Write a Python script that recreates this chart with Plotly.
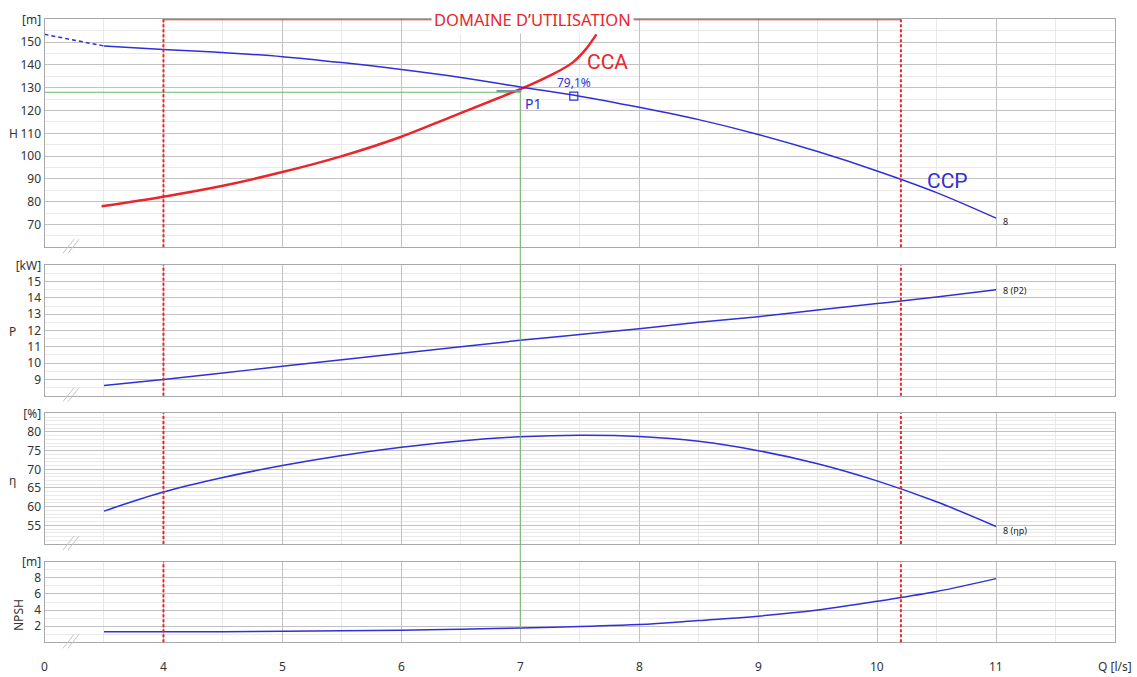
import plotly.graph_objects as go

FIG_W, FIG_H = 1137, 677

# ---------------- data ----------------
# pump curves (flow in l/s)
q = [3.5, 4, 4.5, 5, 5.5, 6, 6.5, 7, 7.5, 8, 8.5, 9, 9.5, 10, 10.5, 11]
head = [148.3, 146.8, 145.4, 143.6, 141.0, 138.0, 134.5, 130.3, 126.3, 121.4, 116.0, 109.5, 102.0, 93.5, 84.0, 72.8]
power = [8.63, 9.0, 9.4, 9.8, 10.2, 10.6, 11.0, 11.4, 11.75, 12.1, 12.5, 12.85, 13.25, 13.65, 14.05, 14.5]
eff = [58.8, 63.9, 67.8, 71.0, 73.7, 75.9, 77.6, 78.7, 79.1, 78.8, 77.5, 75.0, 71.5, 66.9, 61.3, 54.7]
npsh = [1.3, 1.3, 1.32, 1.36, 1.42, 1.5, 1.62, 1.78, 1.97, 2.2, 2.7, 3.24, 4.0, 5.1, 6.3, 7.9]

# head curve extrapolated towards zero flow
q_ext = [3.0, 3.5]
head_ext = [153.4, 148.3]

# system curve (CCA)
q_sys = [3.48, 4, 4.5, 5, 5.5, 6, 6.4, 7.03, 7.27, 7.44, 7.55, 7.64]
head_sys = [78, 82.2, 87, 93, 100, 108.5, 116.8, 130, 135.8, 141, 146.8, 153.4]

# duty point P1, tolerance band and best efficiency point
duty_q, duty_h = 7.0, 128.0
tol_q = [6.8, 7.01]
tol_h = [128.5, 128.5]
bep_q, bep_h, bep_eff = 7.45, 126.3, 79.1

# operating range (DOMAINE D'UTILISATION)
range_q = [4.0, 10.2]

x_tick_vals = [3, 4, 5, 6, 7, 8, 9, 10, 11, 12]
x_tick_text = ["0", "4", "5", "6", "7", "8", "9", "10", "11", "Q [l/s]"]

# ---------------- style ----------------
BLUE = "#3030d6"
RED = "#e8262c"
GREEN = "#6cb86c"
MAJOR = "#c2c2c2"
MINOR = "#e9e9e9"
BORDER = "#a9a9a9"
TXT = "#333333"
FONT = "Noto Sans, Open Sans, sans-serif"
NARROW = "Liberation Sans Narrow, Roboto, sans-serif"


def px_x(px):
    return px / FIG_W


def px_y(py):
    return 1 - py / FIG_H


X_DOM = [px_x(44.5), px_x(1115)]
X_RANGE = [3, 12]

panels = [
    dict(top=19.3, bottom=247.3, rng=[60, 160], major=[70, 80, 90, 100, 110, 120, 130, 140, 150],
         unit="[m]", minor=5),
    dict(top=265.3, bottom=395.7, rng=[8, 16], major=[9, 10, 11, 12, 13, 14, 15],
         unit="[kW]", minor=0.5),
    dict(top=413.3, bottom=544.0, rng=[50, 85], major=[55, 60, 65, 70, 75, 80],
         unit="[%]", minor=1),
    dict(top=561.7, bottom=642.3, rng=[0, 10], major=[2, 4, 6, 8],
         unit="[m]", minor=1),
]

fig = go.Figure()
layout = dict(
    width=FIG_W, height=FIG_H,
    margin=dict(l=0, r=0, t=0, b=0, autoexpand=False),
    paper_bgcolor="white", plot_bgcolor="white",
    showlegend=False,
    font=dict(family=FONT, size=12, color=TXT),
)

shapes = []
annotations = []

for i, p in enumerate(panels, start=1):
    sfx = "" if i == 1 else str(i)
    lo, hi = p["rng"]
    n_minor = int(round((hi - lo) / p["minor"]))
    minor_vals = [lo + k * p["minor"] for k in range(n_minor + 1)]
    layout["yaxis" + sfx] = dict(
        domain=[px_y(p["bottom"]), px_y(p["top"])],
        range=p["rng"], anchor="x" + sfx, automargin=False,
        tickmode="array",
        tickvals=p["major"] + [hi],
        ticktext=[str(v) for v in p["major"]] + [p["unit"]],
        ticks="", showgrid=True, gridcolor=MAJOR, gridwidth=1,
        minor=dict(tickmode="array", tickvals=minor_vals, showgrid=True, gridcolor=MINOR, gridwidth=1),
        showline=True, mirror=True, linecolor=BORDER, linewidth=1,
        zeroline=False, fixedrange=True,
        tickfont=dict(family=FONT, size=12, color=TXT),
    )
    layout["xaxis" + sfx] = dict(
        domain=X_DOM, range=X_RANGE, anchor="y" + sfx, automargin=False,
        tickmode="array",
        tickvals=x_tick_vals,
        showticklabels=False,
        ticks="", showgrid=True, gridcolor=MAJOR, gridwidth=1,
        minor=dict(tickmode="array", tickvals=[v + 0.5 for v in x_tick_vals[:-1]],
                   showgrid=True, gridcolor=MINOR, gridwidth=1),
        showline=True, mirror=True, linecolor=BORDER, linewidth=1,
        zeroline=False, fixedrange=True,
    )
    # operating range limits
    for qv in range_q:
        shapes.append(dict(type="line", xref="x" + sfx, yref="y" + sfx + " domain",
                           x0=qv, x1=qv, y0=0, y1=1,
                           line=dict(color=RED, width=2, dash="3px,2px")))
    # axis break marks
    yb = p["bottom"]
    for dx in (0, 5):
        shapes.append(dict(type="line", xref="paper", yref="paper",
                           x0=px_x(63 + dx), y0=px_y(yb + 6), x1=px_x(74 + dx), y1=px_y(yb - 8),
                           line=dict(color="#c4c4c4", width=1)))

# flow labels under the bottom panel
for xv, xt in zip(x_tick_vals, x_tick_text):
    annotations.append(dict(text=xt, x=xv, y=px_y(676), xref="x4", yref="paper",
                            xanchor="center", yanchor="bottom", borderpad=0, showarrow=False,
                            font=dict(family=FONT, size=12, color=TXT)))

# ---- H panel ----
fig.add_trace(go.Scatter(x=q_ext, y=head_ext, mode="lines", xaxis="x", yaxis="y",
                         line=dict(color=BLUE, width=1.5, dash="4px,3px"), hoverinfo="skip"))
fig.add_trace(go.Scatter(x=[X_RANGE[0], duty_q], y=[duty_h, duty_h], mode="lines",
                         xaxis="x", yaxis="y", line=dict(color=GREEN, width=1), hoverinfo="skip"))
fig.add_trace(go.Scatter(x=q_sys, y=head_sys, mode="lines", xaxis="x", yaxis="y",
                         line=dict(color=RED, width=2.5, shape="spline", smoothing=0.8), hoverinfo="skip"))
fig.add_trace(go.Scatter(x=q, y=head, mode="lines", xaxis="x", yaxis="y",
                         line=dict(color=BLUE, width=1.5, shape="spline"), hoverinfo="skip"))
fig.add_trace(go.Scatter(x=tol_q, y=tol_h, mode="lines", xaxis="x", yaxis="y",
                         line=dict(color="#7f8fb8", width=2), hoverinfo="skip"))
fig.add_trace(go.Scatter(x=[bep_q], y=[bep_h], mode="markers", xaxis="x", yaxis="y",
                         marker=dict(symbol="square-open", size=8, color=BLUE, line=dict(width=1.2)),
                         hoverinfo="skip"))

# ---- P, eta, NPSH panels ----
fig.add_trace(go.Scatter(x=q, y=power, mode="lines", xaxis="x2", yaxis="y2",
                         line=dict(color=BLUE, width=1.5, shape="spline"), hoverinfo="skip"))
fig.add_trace(go.Scatter(x=q, y=eff, mode="lines", xaxis="x3", yaxis="y3",
                         line=dict(color=BLUE, width=1.5, shape="spline"), hoverinfo="skip"))
fig.add_trace(go.Scatter(x=q, y=npsh, mode="lines", xaxis="x4", yaxis="y4",
                         line=dict(color=BLUE, width=1.5, shape="spline"), hoverinfo="skip"))


# duty-point vertical line running through all panels down to the NPSH curve
def data_to_paper(val, p):
    lo, hi = p["rng"]
    py = p["bottom"] + (p["top"] - p["bottom"]) * (val - lo) / (hi - lo)
    return px_y(py)


npsh_at_duty = npsh[q.index(duty_q)]
shapes.append(dict(type="line", xref="x", yref="paper",
                   x0=duty_q, x1=duty_q,
                   y0=data_to_paper(duty_h, panels[0]), y1=data_to_paper(npsh_at_duty, panels[3]),
                   line=dict(color=GREEN, width=1)))

# operating range top bar
shapes.append(dict(type="line", xref="x", yref="y", x0=range_q[0], x1=range_q[1],
                   y0=panels[0]["rng"][1], y1=panels[0]["rng"][1],
                   line=dict(color=RED, width=2)))


def side_label(text, x, y, angle=0):
    return dict(text=text, x=px_x(x), y=px_y(y), xref="paper", yref="paper",
                xanchor="center", yanchor="middle", showarrow=False, textangle=angle,
                font=dict(family=FONT, size=12, color=TXT))


annotations += [
    dict(text="DOMAINE D’UTILISATION", x=sum(range_q) / 2, y=panels[0]["rng"][1], xref="x", yref="y",
         xanchor="center", yanchor="middle",
         showarrow=False, bgcolor="white", borderpad=2,
         font=dict(family=FONT, size=16.5, color=RED)),
    dict(text="CCA", x=7.73, y=141.3, xref="x", yref="y", xanchor="center", yanchor="middle",
         showarrow=False, font=dict(family=NARROW, size=21, color=RED)),
    dict(text="CCP", x=10.59, y=89.3, xref="x", yref="y", xanchor="center", yanchor="middle",
         showarrow=False, font=dict(family=NARROW, size=21, color=BLUE)),
    dict(text="P1", x=duty_q + 0.02, y=123.0, xref="x", yref="y", xanchor="left", yanchor="middle",
         showarrow=False, font=dict(family=FONT, size=14, color=BLUE)),
    dict(text=f"{bep_eff:.1f}%".replace(".", ","), x=bep_q, y=132.2, xref="x", yref="y",
         xanchor="center", yanchor="middle",
         showarrow=False, font=dict(family=FONT, size=12, color=BLUE)),
    dict(text="8", x=q[-1] + 0.04, y=head[-1] - 1.5, xref="x", yref="y", xanchor="left",
         yanchor="middle", showarrow=False, font=dict(family=FONT, size=9, color="#222")),
    dict(text="8 (P2)", x=q[-1] + 0.04, y=power[-1] - 0.05, xref="x2", yref="y2", xanchor="left",
         yanchor="middle", showarrow=False, font=dict(family=FONT, size=9, color="#222")),
    dict(text="8 (ηp)", x=q[-1] + 0.04, y=eff[-1] - 1.2, xref="x3", yref="y3", xanchor="left",
         yanchor="middle", showarrow=False, font=dict(family=FONT, size=9, color="#222")),
    side_label("H", 13, 134),
    side_label("P", 12, 331),
    side_label("η", 12, 481),
    side_label("NPSH", 18, 615, -90),
]

layout["shapes"] = shapes
layout["annotations"] = annotations
fig.update_layout(**layout)
fig.write_html("out.html")
